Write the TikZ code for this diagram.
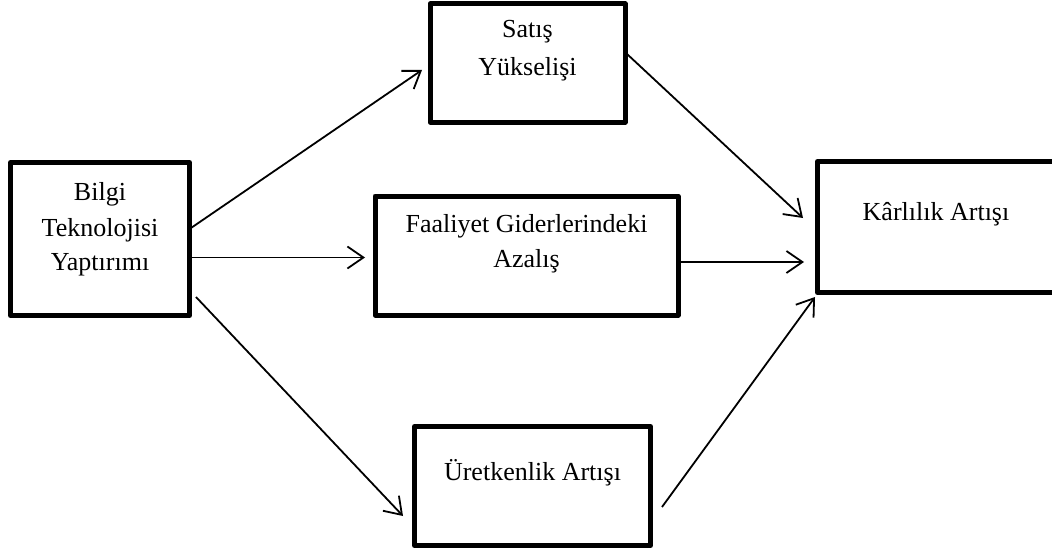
\documentclass[tikz,border=0pt]{standalone}
\usepackage{fontspec}
\setmainfont{Liberation Serif}
\usetikzlibrary{arrows.meta}
\begin{document}
\begin{tikzpicture}[x=1pt,y=-1pt,
  box/.style={draw=black,line width=5pt,line join=round,fill=none,inner sep=0pt,outer sep=0pt},
  lbl/.style={anchor=base,inner sep=0pt,font=\fontsize{26}{35}\selectfont},
  link/.style={line width=1.8pt,-{Straight Barb[length=16pt,width=22pt,line width=1.8pt]}}
]
\useasboundingbox (0,0) rectangle (1052,551);

% boxes
\draw[box] (10.5,162.5) rectangle (189.5,315.5);
\node[inner sep=0pt] (bt) at (100,239) {};
\draw[box] (430,4) rectangle (625,122);
\node[inner sep=0pt] (sy) at (527.5,63) {};
\draw[box] (375,196) rectangle (678,315);
\node[inner sep=0pt] (fg) at (526.5,255.5) {};
\draw[box] (414.5,426.5) rectangle (650.5,545.5);
\node[inner sep=0pt] (ua) at (532.5,486) {};
\draw[box] (1070,161.5) -- (817.5,161.5) -- (817.5,292.5) -- (1070,292.5);
\node[inner sep=0pt] (ka) at (936,227) {};

% labels
\node[lbl] (bt1) at (100,200) {Bilgi};
\node[lbl] (bt2) at (100,236) {Teknolojisi};
\node[lbl] (bt3) at (100,270) {Yaptırımı};
\node[lbl] (sy1) at (527.5,38) {Satış};
\node[lbl] (sy2) at (527.5,75) {Yükselişi};
\node[lbl] (fg1) at (526.5,232) {Faaliyet Giderlerindeki};
\node[lbl] (fg2) at (526.5,267) {Azalış};
\node[lbl] (ka1) at (936,220) {Kârlılık Artışı};
\node[lbl] (ua1) at (532.5,480) {Üretkenlik Artışı};

% connector end points
\coordinate (btA) at (191,228);
\coordinate (syIn) at (422,70);
\coordinate (btB) at (192,257.5);
\coordinate (fgIn) at (365,257.5);
\coordinate (btC) at (196,297);
\coordinate (uaIn) at (403,516);
\coordinate (syOut) at (627,54);
\coordinate (kaA) at (803,218);
\coordinate (fgOut) at (681,262);
\coordinate (kaB) at (804,262);
\coordinate (uaOut) at (662,507);
\coordinate (kaC) at (815,297);

% connectors
\draw[link] (btA) -- (syIn);
\draw[link] (btB) -- (fgIn);
\draw[link] (btC) -- (uaIn);
\draw[link] (syOut) -- (kaA);
\draw[link] (fgOut) -- (kaB);
\draw[link] (uaOut) -- (kaC);
\end{tikzpicture}
\end{document}
